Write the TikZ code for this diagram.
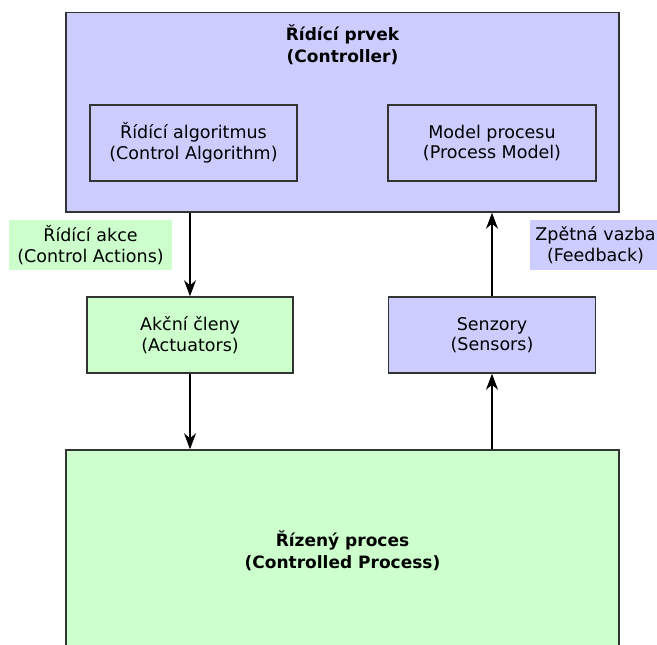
\documentclass[tikz,border=0pt]{standalone}
\usepackage{fontspec}
\setmainfont{DejaVu Sans}
\usetikzlibrary{arrows.meta}
\definecolor{ctrlfill}{HTML}{CCCCFF}
\definecolor{procfill}{HTML}{CCFFCC}
\definecolor{edge}{HTML}{333333}
\tikzset{
  x=1pt, y=-1pt,
  box/.style={draw=edge, line width=1.5pt, rectangle, inner sep=0pt,
    align=center, font=\fontsize{17.5}{20.5}\selectfont},
  bluebox/.style={box, fill=ctrlfill},
  greenbox/.style={box, fill=procfill},
  tag/.style={rectangle, inner sep=0pt, align=center,
    font=\fontsize{17.5}{20.5}\selectfont},
  flow/.style={draw=black, line width=1.4pt,
    -{Stealth[length=16pt, width=12pt, inset=5pt]}},
  bold/.style={font=\fontsize{17}{22}\selectfont\bfseries}
}
\begin{document}
\begin{tikzpicture}
  \useasboundingbox (0,0) rectangle (657,645);
  \clip (0,0) rectangle (657,645);

  % controller and its two parts
  \node[bluebox, minimum width=553pt, minimum height=199.5pt] (ctrl) at (342.5,112.25) {};
  \node[tag, bold] (ctrltitle) at (342.5,45) {Řídící prvek\\(Controller)};
  \node[bluebox, minimum width=207pt, minimum height=76pt] (algo) at (193.5,143)
    {Řídící algoritmus\\(Control Algorithm)};
  \node[bluebox, minimum width=208pt, minimum height=76pt] (model) at (492,143)
    {Model procesu\\(Process Model)};

  % actuators and sensors
  \node[greenbox, minimum width=206pt, minimum height=76pt] (act) at (190,335)
    {Akční členy\\(Actuators)};
  \node[bluebox, minimum width=207pt, minimum height=76pt] (sens) at (492,335)
    {Senzory\\(Sensors)};

  % controlled process
  \node[greenbox, bold, minimum width=553pt, minimum height=202pt] (proc) at (342.5,551)
    {Řízený proces\\(Controlled Process)};

  % signal labels
  \node[tag, fill=procfill, minimum width=163pt, minimum height=50pt] (acts) at (90.5,245)
    {Řídící akce\\(Control Actions)};
  \node[tag, fill=ctrlfill, minimum width=131pt, minimum height=50pt] (fb) at (595.5,245)
    {Zpětná vazba\\(Feedback)};

  % control loop
  \draw[flow] (act.north |- ctrl.south) -- (act.north);
  \draw[flow] (act.south) -- (act.south |- proc.north);
  \draw[flow] (sens.south |- proc.north) -- (sens.south);
  \draw[flow] (sens.north) -- (sens.north |- ctrl.south);
\end{tikzpicture}
\end{document}
